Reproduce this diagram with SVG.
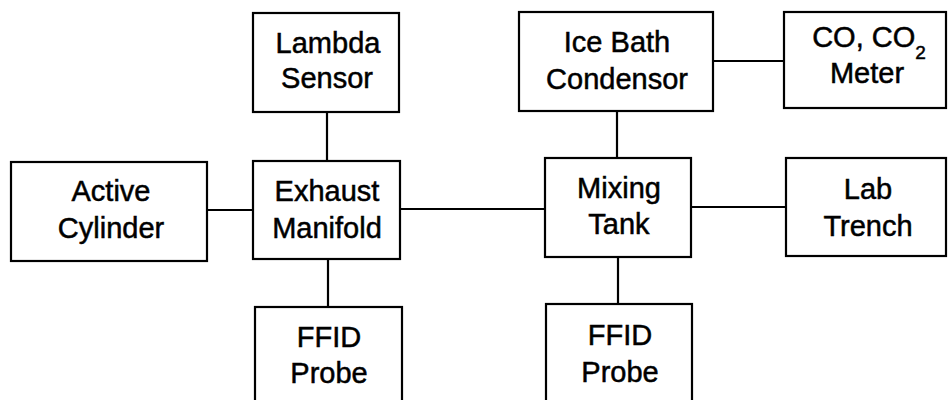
<svg xmlns="http://www.w3.org/2000/svg" width="948" height="400" viewBox="0 0 948 400">
<style>
.box{fill:#fff;stroke:#000;stroke-width:2.2}
.ln{stroke:#000;stroke-width:2.2;fill:none}
text{font-family:"Liberation Sans",Arial,sans-serif;font-size:29px;text-anchor:middle;fill:#000;stroke:#000;stroke-width:0.5}
</style>
<rect width="948" height="400" fill="#fff"/>
<g id="connectors">
<line class="ln" x1="327" y1="112" x2="327" y2="161"/>
<line class="ln" x1="207" y1="210" x2="253" y2="210"/>
<line class="ln" x1="400" y1="209" x2="545" y2="209"/>
<line class="ln" x1="328" y1="259" x2="328" y2="307"/>
<line class="ln" x1="713" y1="61" x2="784" y2="61"/>
<line class="ln" x1="617" y1="111" x2="617" y2="158"/>
<line class="ln" x1="691" y1="207" x2="786" y2="207"/>
<line class="ln" x1="618" y1="257" x2="618" y2="304"/>
</g>
<g id="lambda">
<rect class="box" x="253" y="13" width="146" height="99"/>
<text x="328" y="53">Lambda</text>
<text x="327" y="88">Sensor</text>
</g>
<g id="active">
<rect class="box" x="11" y="162" width="196" height="99"/>
<text x="111" y="201">Active</text>
<text x="111" y="238">Cylinder</text>
</g>
<g id="exhaust">
<rect class="box" x="253" y="161" width="147" height="98"/>
<text x="327" y="201">Exhaust</text>
<text x="327" y="238">Manifold</text>
</g>
<g id="ffid1">
<rect class="box" x="255" y="307" width="147" height="100"/>
<text x="329" y="347">FFID</text>
<text x="329" y="383">Probe</text>
</g>
<g id="icebath">
<rect class="box" x="519" y="12" width="194" height="99"/>
<text x="617" y="52">Ice Bath</text>
<text x="617" y="89">Condensor</text>
</g>
<g id="meter">
<rect class="box" x="784" y="12" width="162" height="96"/>
<text x="869" y="47">CO, CO<tspan font-size="19" dy="12">2</tspan></text>
<text x="867" y="83">Meter</text>
</g>
<g id="mixing">
<rect class="box" x="545" y="158" width="146" height="99"/>
<text x="619" y="198">Mixing</text>
<text x="619" y="234">Tank</text>
</g>
<g id="lab">
<rect class="box" x="786" y="158" width="160" height="98"/>
<text x="868" y="199">Lab</text>
<text x="868" y="236">Trench</text>
</g>
<g id="ffid2">
<rect class="box" x="546" y="304" width="146" height="100"/>
<text x="620" y="345">FFID</text>
<text x="620" y="382">Probe</text>
</g>
</svg>
